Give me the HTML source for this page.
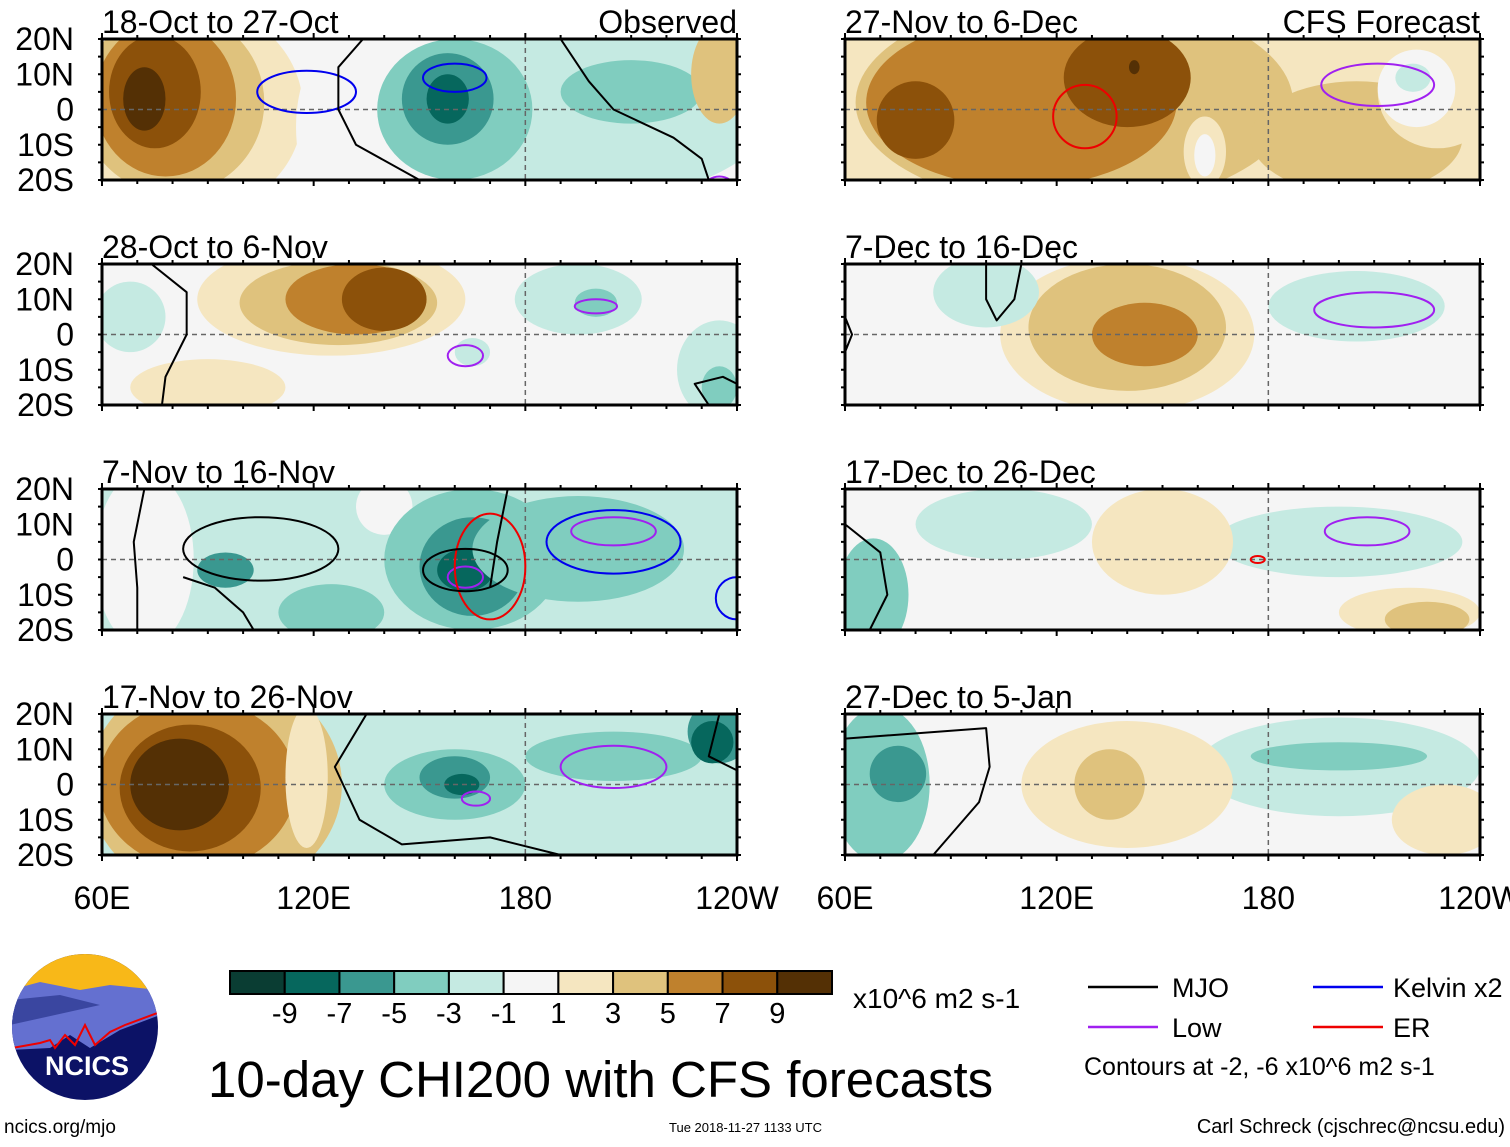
<!DOCTYPE html>
<html><head><meta charset="utf-8"><style>
body{margin:0;background:#fff;width:1510px;height:1142px;overflow:hidden;font-family:"Liberation Sans",sans-serif}
svg text{font-family:"Liberation Sans",sans-serif}
</style></head><body>
<svg id="s" width="1510" height="1142" viewBox="0 0 1510 1142" xmlns="http://www.w3.org/2000/svg">
<defs><clipPath id="cl"><rect x="0" y="0" width="635" height="141"/></clipPath></defs>
</svg>
<script>
const levelColors=["#0a3d33","#06675d","#3a9890","#80cdbf","#c5eae2","#f5f5f5","#f5e6c0","#dfc27d","#bf812d","#8c510a","#543005"];
const levelLabels=["-9","-7","-5","-3","-1","1","3","5","7","9"];
const panelTitles=["18-Oct to 27-Oct","28-Oct to 6-Nov","7-Nov to 16-Nov","17-Nov to 26-Nov","27-Nov to 6-Dec","7-Dec to 16-Dec","17-Dec to 26-Dec","27-Dec to 5-Jan"];
const latTicks=["20N","10N","0","10S","20S"];
const lonTicks=["60E","120E","180","120W"];
// blobs: [lon, lat, rxDeg, ryDeg, level]
const panelBase=[5,5,4,4,6,5,5,5];
const panelBlobs=[
 [[85,0,32,30,6],[80,2,26,26,7],[78,3,20,22,8],[75,5,13,16,9],[72,3,6,9,10],[200,0,50,25,4],[175,0,35,22,4],[160,0,22,20,3],[158,3,13,13,2],[158,3,6,7,1],[210,5,20,9,3],[235,10,8,14,7],[125,-5,10,22,5]],
 [[125,10,38,16,6],[127,9,28,12,7],[132,10,20,10,8],[140,10,12,9,9],[90,-15,22,8,6],[68,5,10,10,4],[195,10,18,10,4],[200,9,6,4,3],[235,-10,12,14,4],[235,-15,5,6,3],[165,-5,5,4,4]],
 [[72,0,14,25,5],[140,15,8,8,5],[165,0,25,20,3],[165,-2,15,14,2],[163,-3,8,6,1],[195,3,30,15,3],[95,-3,8,5,2],[125,-15,15,8,3]],
 [[92,0,36,32,7],[87,0,28,24,8],[85,-1,20,18,9],[82,0,14,13,10],[118,2,6,20,6],[160,0,20,10,3],[160,2,10,6,2],[162,0,5,3,1],[205,8,25,7,3],[235,15,9,9,2],[233,12,6,6,1]],
 [[125,2,62,30,7],[205,-8,30,16,7],[110,2,44,24,8],[80,-3,11,11,9],[140,9,18,14,9],[142,12,1.5,2,10],[162,-12,6,10,6],[162,-13,3,6,5],[228,5,17,16,6],[222,6,11,11,5],[221,9,5,4,4]],
 [[140,0,36,22,6],[140,2,28,18,7],[145,0,15,9,8],[205,8,25,10,4],[100,12,15,10,4]],
 [[68,-10,10,16,3],[200,5,35,10,4],[105,10,25,10,4],[150,5,20,15,6],[220,-15,20,7,6],[225,-17,12,5,7]],
 [[70,0,14,22,3],[75,3,8,8,2],[200,5,40,14,4],[200,8,25,4,3],[140,0,30,18,6],[135,0,10,10,7],[230,-10,15,10,6]]
];
// ellipse contours: [lon,lat,rxDeg,ryDeg,color]
const panelRings=[
 [[118,5,14,6,"#0000ee"],[160,9,9,4,"#0000ee"],[235,-22,4,3,"#a020f0"]],
 [[200,8,6,2,"#a020f0"],[163,-6,5,3,"#a020f0"]],
 [[105,3,22,9,"#000"],[205,5,19,9,"#0000ee"],[205,8,12,4,"#a020f0"],[163,-5,5,3,"#a020f0"],[170,-2,10,15,"#e00"],[163,-3,12,6,"#000"],[240,-11,6,6,"#0000ee"]],
 [[205,5,15,6,"#a020f0"],[166,-4,4,2,"#a020f0"]],
 [[128,-2,9,9,"#e00"],[211,7,16,6,"#a020f0"]],
 [[210,7,17,5,"#a020f0"]],
 [[208,8,12,4,"#a020f0"],[177,0,2,1,"#e00"]],
 []
];
// polyline contours: lists of [lon,lat]
const panelLines=[
 [[[134,20],[127,12],[127,0],[132,-10],[150,-20]],[[190,20],[198,8],[205,0],[222,-8],[230,-14],[232,-20]]],
 [[[74,20],[84,12],[84,0],[78,-12],[77,-20]],[[232,-20],[228,-14],[236,-12],[240,-14]]],
 [[[72,20],[69,5],[70,-8],[70,-20]],[[175,20],[172,5],[170,-8]],[[83,-5],[92,-8],[100,-15],[103,-20]]],
 [[[135,20],[126,5],[133,-10],[145,-17],[170,-15],[190,-20]],[[235,20],[232,8],[240,4]]],
 [],
 [[[110,20],[108,10],[103,4],[100,10],[100,20]],[[60,-5],[62,0],[60,5]]],
 [[[60,10],[70,2],[72,-10],[67,-20]]],
 [[[60,13],[100,16],[101,5],[98,-5],[85,-20]]]
];
const s=document.getElementById('s');
const NS="http://www.w3.org/2000/svg";
function el(t,a,p){const e=document.createElementNS(NS,t);for(const k in a)e.setAttribute(k,a[k]);(p||s).appendChild(e);return e;}
const PW=635,PH=141;
const colX=[102,845],rowY=[39,264,489,714];
const xs=lon=>(lon-60)*PW/180;
const ys=lat=>(20-lat)*PH/40;
for(let i=0;i<8;i++){
 const px=colX[i<4?0:1],py=rowY[i%4];
 const g=el('g',{transform:`translate(${px},${py})`});
 
 
 const inner=el('g',{'clip-path':'url(#cl)'},g);
 el('rect',{x:0,y:0,width:PW,height:PH,fill:levelColors[panelBase[i]]},inner);
 panelBlobs[i].forEach(b=>{
  const e=el('ellipse',{cx:xs(b[0]),cy:ys(b[1]),rx:b[2]*PW/180,ry:b[3]*PH/40,fill:levelColors[b[4]]},inner);
  
  
 });
 el('line',{x1:0,x2:PW,y1:ys(0),y2:ys(0),stroke:'#666','stroke-width':1.5,'stroke-dasharray':'5,4'},inner);
 el('line',{x1:xs(180),x2:xs(180),y1:0,y2:PH,stroke:'#666','stroke-width':1.5,'stroke-dasharray':'5,4'},inner);
 panelRings[i].forEach(r=>{
  const e=el('ellipse',{cx:xs(r[0]),cy:ys(r[1]),rx:r[2]*PW/180,ry:r[3]*PH/40,fill:'none',stroke:r[4],'stroke-width':2},inner);
  
  
 });
 panelLines[i].forEach(l=>{
  const e=el('polyline',{points:l.map(p=>xs(p[0])+','+ys(p[1])).join(' '),fill:'none',stroke:'#000','stroke-width':2,'stroke-linejoin':'round'},inner);
  
  
 });
 el('rect',{x:0,y:0,width:PW,height:PH,fill:'none',stroke:'#000','stroke-width':3},g);
 for(let k=0;k<=18;k++){const x=k*PW/18,L=(k%6==0)?6:4;
  el('line',{x1:x,x2:x,y1:PH,y2:PH+L,stroke:'#000','stroke-width':2},g);
  el('line',{x1:x,x2:x,y1:0,y2:-L,stroke:'#000','stroke-width':2},g);}
 for(let k=0;k<=8;k++){const y=k*PH/8;
  el('line',{x1:0,x2:-4,y1:y,y2:y,stroke:'#000','stroke-width':2},g);
  el('line',{x1:PW,x2:PW+4,y1:y,y2:y,stroke:'#000','stroke-width':2},g);}
 const t=el('text',{x:0,y:-6,'font-size':32,fill:'#000'},g);t.textContent=panelTitles[i];
 
 
 if(i%4==0){const t2=el('text',{x:PW,y:-6,'font-size':32,'text-anchor':'end'},g);t2.textContent=i==0?'Observed':'CFS Forecast';
  
  }
 if(i<4){latTicks.forEach((lt,k)=>{const tt=el('text',{x:-28,y:k*PH/4+11,'font-size':32,'text-anchor':'end'},g);tt.textContent=lt;
  
  });}
 if(i%4==3){lonTicks.forEach((lt,k)=>{const tt=el('text',{x:k*PW/3,y:PH+54,'font-size':32,'text-anchor':'middle'},g);tt.textContent=lt;
  
  });}
}
// colorbar
const cb=el('g',{});


const cbx=230,cbw=602/11;
levelColors.forEach((c,k)=>{el('rect',{x:cbx+k*cbw,y:971,width:cbw,height:23,fill:c,stroke:'#000','stroke-width':2},cb);});
levelLabels.forEach((l,k)=>{const t=el('text',{x:cbx+(k+1)*cbw,y:1023,'font-size':29,'text-anchor':'middle'},cb);t.textContent=l;});
const u=el('text',{x:853,y:1008,'font-size':28},cb);u.textContent='x10^6 m2 s-1';
// legend
const lg=el('g',{});


[["MJO","#000",1088,1172,987],["Low","#a020f0",1088,1172,1027],["Kelvin x2","#0000ee",1313,1393,987],["ER","#e00",1313,1393,1027]].forEach(a=>{
 el('line',{x1:a[2],x2:a[2]+70,y1:a[4],y2:a[4],stroke:a[1],'stroke-width':2.5},lg);
 const t=el('text',{x:a[3],y:a[4]+10,'font-size':27},lg);t.textContent=a[0];});
const ct=el('text',{x:1084,y:1075,'font-size':25},lg);ct.textContent='Contours at -2, -6 x10^6 m2 s-1';
// title & footers
const ti=el('text',{x:208,y:1097,'font-size':51});ti.textContent='10-day CHI200 with CFS forecasts';

const f1=el('text',{x:4,y:1133,'font-size':19});f1.textContent='ncics.org/mjo';

const f2=el('text',{x:669,y:1132,'font-size':13});f2.textContent='Tue 2018-11-27 1133 UTC';

const f3=el('text',{x:1505,y:1133,'font-size':20,'text-anchor':'end'});f3.textContent='Carl Schreck (cjschrec@ncsu.edu)';

// logo
const lo=el('g',{});


const cp=el('clipPath',{id:'lc'});
el('circle',{cx:85,cy:1027,r:73},cp);
const lgg=el('g',{'clip-path':'url(#lc)'},lo);
el('rect',{x:10,y:950,width:150,height:160,fill:'#0c1266'},lgg);
el('rect',{x:10,y:950,width:150,height:40,fill:'#f8b818'},lgg);
el('polygon',{points:'10,990 40,982 80,990 110,985 160,990 160,1015 120,1030 90,1048 70,1035 50,1048 10,1050',fill:'#6470d0'},lgg);
el('polygon',{points:'10,1000 60,995 100,1005 10,1025',fill:'#3a46a0'},lgg);
el('polyline',{points:'12,1048 40,1043 50,1040 55,1048 65,1035 75,1045 85,1025 95,1045 110,1032 125,1025 160,1012',fill:'none',stroke:'#e00','stroke-width':2},lgg);
const lt=el('text',{x:87,y:1075,'font-size':27,'font-weight':'bold',fill:'#fff','text-anchor':'middle'},lo);lt.textContent='NCICS';
</script>
</body></html>
